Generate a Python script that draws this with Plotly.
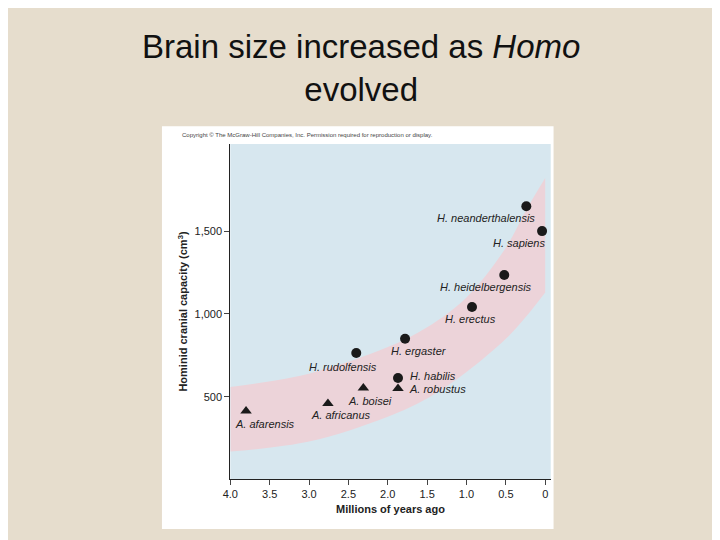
import plotly.graph_objects as go

# hominid data: millions of years ago, cranial capacity (cm3)
species = ["A. afarensis", "A. africanus", "A. boisei", "A. robustus", "H. habilis",
           "H. rudolfensis", "H. ergaster", "H. erectus", "H. heidelbergensis",
           "H. neanderthalensis", "H. sapiens"]
mya = [3.8, 2.76, 2.31, 1.87, 1.87, 2.4, 1.78, 0.93, 0.52, 0.24, 0.04]
capacity = [415, 460, 554, 550, 614, 765, 850, 1042, 1235, 1650, 1500]
genus = ["A", "A", "A", "A", "H", "H", "H", "H", "H", "H", "H"]

# label positions (data coords)
label_x = [3.56, 2.6, 2.22, 1.37, 1.42, 2.565, 1.6, 0.952, 0.756, 0.756, 0.337]
label_y = [337, 392, 476, 548, 626, 681, 777, 970, 1163, 1578, 1428]

# trend band edges
band_x = [4.0, 3.0, 2.0, 1.5, 1.0, 0.5, 0.25, 0.0]
band_low = [170, 230, 380, 490, 650, 850, 980, 1130]
band_high = [560, 640, 800, 920, 1100, 1400, 1620, 1820]

fig = go.Figure()
fig.add_trace(go.Scatter(x=band_x, y=band_low, mode="lines", line=dict(width=0, shape="spline"),
                         hoverinfo="skip", showlegend=False))
fig.add_trace(go.Scatter(x=band_x, y=band_high, mode="lines", line=dict(width=0, shape="spline"),
                         fill="tonexty", fillcolor="#ecd3d9", hoverinfo="skip", showlegend=False))

for g, sym in [("A", "triangle-up"), ("H", "circle")]:
    idx = [i for i, v in enumerate(genus) if v == g]
    fig.add_trace(go.Scatter(x=[mya[i] for i in idx], y=[capacity[i] for i in idx], mode="markers",
                             marker=dict(symbol=sym, size=10, color="#1a1a1a"), showlegend=False))

for name, lx, ly in zip(species, label_x, label_y):
    fig.add_annotation(x=lx, y=ly, xref="x", yref="y", text=f"<i>{name}</i>", showarrow=False,
                       font=dict(size=11, color="#222", family="Liberation Sans"))

# white panel, then light blue plot area
fig.add_shape(type="rect", xref="paper", yref="paper", x0=0.205, x1=0.755, y0=0.035, y1=0.781,
              fillcolor="white", line=dict(width=0), layer="below")
fig.add_shape(type="rect", xref="paper", yref="paper", x0=0.301, x1=0.751, y0=0.128, y1=0.748,
              fillcolor="#d7e7ef", line=dict(width=0), layer="below")
fig.add_annotation(x=0.484, y=0.967, xref="paper", yref="paper", yanchor="top", showarrow=False,
                   text="Brain size increased as <i>Homo</i><br>evolved",
                   font=dict(size=33, color="#111", family="Liberation Sans"))
fig.add_annotation(x=0.231, y=0.774, xref="paper", yref="paper", xanchor="left", yanchor="top",
                   showarrow=False,
                   text="Copyright © The McGraw-Hill Companies, Inc. Permission required for reproduction or display.",
                   font=dict(size=6, color="#444", family="Liberation Sans"))

fig.update_layout(
    width=720, height=540, margin=dict(l=0, r=0, t=0, b=0),
    paper_bgcolor="#e6ddcd", plot_bgcolor="#d7e7ef",
    font=dict(family="Liberation Sans", color="#222"),
    xaxis=dict(domain=[0.301, 0.751], range=[4.0, -0.07], tickvals=[4, 3.5, 3, 2.5, 2, 1.5, 1, 0.5, 0],
               ticktext=["4.0", "3.5", "3.0", "2.5", "2.0", "1.5", "1.0", "0.5", "0"],
               ticks="outside", ticklen=5, showgrid=False, zeroline=False, showline=True,
               linecolor="#222", tickfont=dict(size=11),
               title=dict(text="<b>Millions of years ago</b>", font=dict(size=11), standoff=6)),
    yaxis=dict(domain=[0.128, 0.748], range=[5, 2025], tickvals=[500, 1000, 1500],
               ticktext=["500", "1,000", "1,500"], ticks="outside", ticklen=5, showgrid=False,
               zeroline=False, showline=True, linecolor="#222", tickfont=dict(size=11),
               title=dict(text="<b>Hominid cranial capacity (cm<sup>3</sup>)</b>", font=dict(size=11), standoff=4)),
)
fig.write_html("out.html")
